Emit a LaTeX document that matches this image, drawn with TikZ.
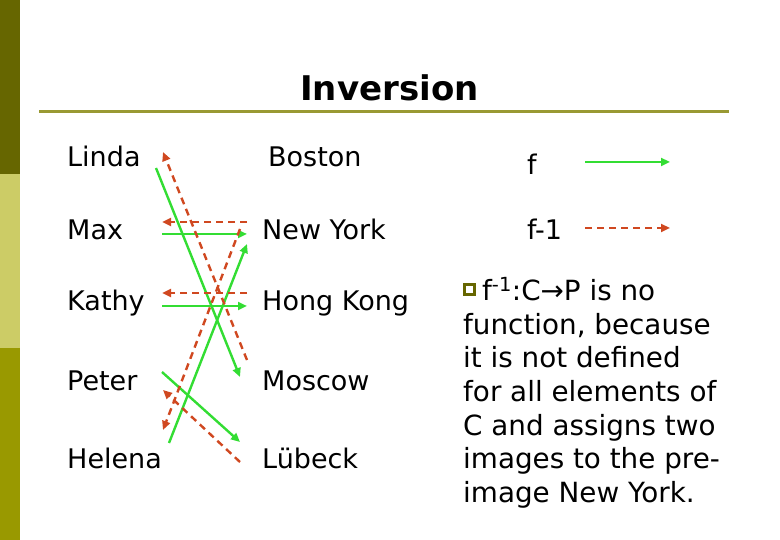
\documentclass[tikz,border=0pt]{standalone}
\usepackage{fontspec}
\setmainfont{DejaVu Sans}
\usetikzlibrary{arrows.meta, calc}

\definecolor{sidedark}{RGB}{102,102,0}
\definecolor{sidelight}{RGB}{204,204,102}
\definecolor{sidemid}{RGB}{153,153,0}
\definecolor{ruleolive}{RGB}{153,153,51}
\definecolor{fgreen}{RGB}{51,221,51}
\definecolor{finvred}{RGB}{208,72,32}

\begin{document}
\begin{tikzpicture}[x=1pt, y=-1pt]

  \tikzset{
    person/.style={anchor=base west, inner sep=0pt,
      font=\fontsize{27}{32}\selectfont},
    fmap/.style={-{Triangle[length=9pt, width=8pt]}, line width=2.4pt, fgreen},
    finvmap/.style={-{Triangle[length=9pt, width=8pt]}, line width=2.4pt,
      finvred, dash pattern=on 7pt off 5pt}
  }

  \useasboundingbox (0,0) rectangle (780,540);
  \fill[white] (0,0) rectangle (780,540);

  % side bar and title rule
  \fill[sidedark] (0,0) rectangle (20,174);
  \fill[sidelight] (0,174) rectangle (20,348);
  \fill[sidemid] (0,348) rectangle (20,540);
  \draw[ruleolive, line width=3pt] (39,112) -- (729,112);

  \node[anchor=base, inner sep=0pt, font=\fontsize{34}{40}\selectfont\bfseries]
    (title) at (389.5,101) {Inversion};

  % persons
  \node[person] (linda)  at (67,167) {Linda};
  \node[person] (max)    at (67,240) {Max};
  \node[person] (kathy)  at (67,311) {Kathy};
  \node[person] (peter)  at (67,390) {Peter};
  \node[person] (helena) at (67,468) {Helena};

  % cities
  \node[person] (boston)   at (268,167) {Boston};
  \node[person] (newyork)  at (262,240) {New York};
  \node[person] (hongkong) at (262,311) {Hong Kong};
  \node[person] (moscow)   at (262,390) {Moscow};
  \node[person] (luebeck)  at (262,468) {Lübeck};

  % f
  \draw[fmap] ($(linda.base west)+(89,1)$)     -- ($(moscow.base west)+(-22,-13)$);
  \draw[fmap] ($(max.base west)+(95,-6)$)      -- ($(newyork.base west)+(-15,-6)$);
  \draw[fmap] ($(kathy.base west)+(95,-5)$)    -- ($(hongkong.base west)+(-15,-5)$);
  \draw[fmap] ($(peter.base west)+(95,-18)$)   -- ($(luebeck.base west)+(-22,-26)$);
  \draw[fmap] ($(helena.base west)+(102,-25)$) -- ($(newyork.base west)+(-15,4)$);

  % f-1
  \draw[finvmap] ($(moscow.base west)+(-15,-30)$)   -- ($(linda.base west)+(96,-15)$);
  \draw[finvmap] ($(newyork.base west)+(-15,-18)$)  -- ($(max.base west)+(95,-18)$);
  \draw[finvmap] ($(hongkong.base west)+(-15,-18)$) -- ($(kathy.base west)+(95,-18)$);
  \draw[finvmap] ($(newyork.base west)+(-22,-11)$)  -- ($(helena.base west)+(96,-38)$);
  \draw[finvmap] ($(luebeck.base west)+(-22,-6)$)   -- ($(peter.base west)+(96,0)$);

  % legend
  \node[person] (flabel)    at (527,175) {f};
  \node[person] (finvlabel) at (527,240) {f-1};
  \coordinate (fend)    at (670,162);
  \coordinate (finvend) at (670,228);
  \draw[fmap]    ($(flabel.base west)+(58,-13)$)    -- (fend);
  \draw[finvmap] ($(finvlabel.base west)+(58,-12)$) -- (finvend);

  % note
  \node[draw=sidedark, line width=3pt, fill=white, minimum size=10pt,
    inner sep=0pt] (bullet) at (469.5,289.5) {};
  \node[anchor=north west, inner sep=0pt, align=left,
    font=\fontsize{27.8}{33.7}\selectfont] (note) at (463,277) {%
    \hspace*{19pt}f\textsuperscript{-1}:C→P is no\\
    function, because\\
    it is not defined\\
    for all elements of\\
    C and assigns two\\
    images to the pre-\\
    image New York.};

\end{tikzpicture}
\end{document}
